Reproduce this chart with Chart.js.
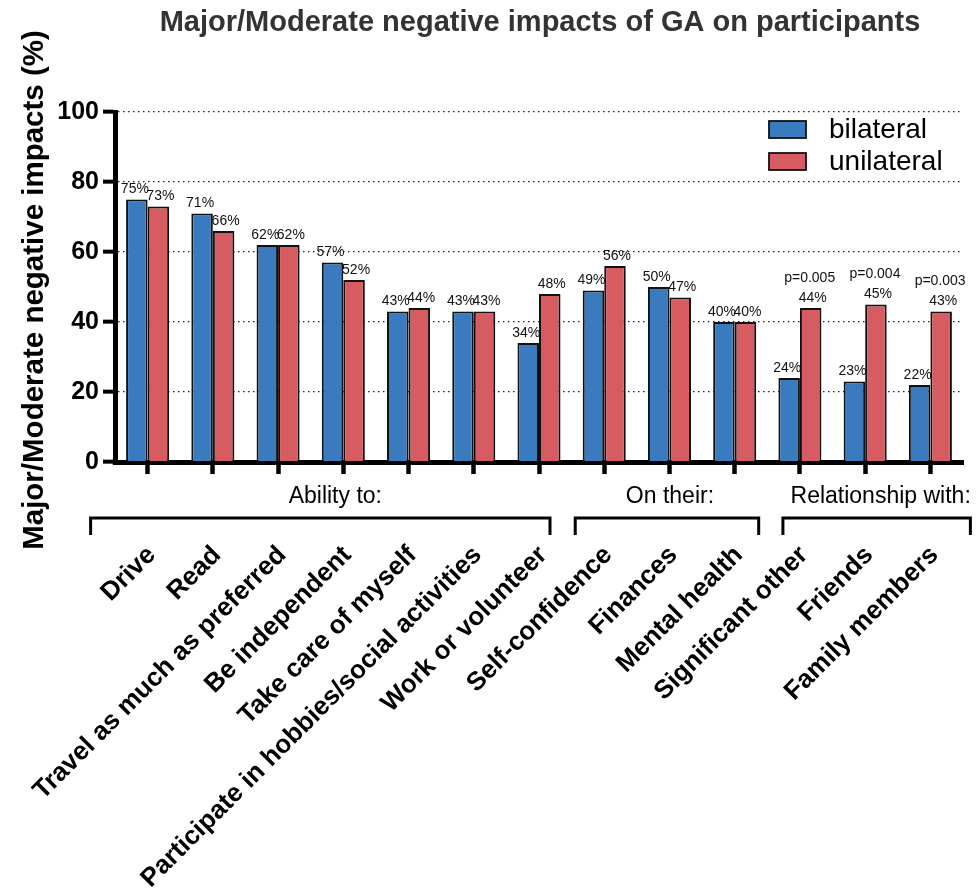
<!DOCTYPE html>
<html>
<head>
<meta charset="utf-8">
<title>Major/Moderate negative impacts of GA on participants</title>
<script src="https://cdn.jsdelivr.net/npm/chart.js@4.4.1/dist/chart.umd.min.js"></script>
<style>
  body { margin: 0; background: #fff; }
  #wrap { width: 978px; height: 890px; position: relative; }
</style>
</head>
<body>
<div id="wrap"><canvas id="gaChart"></canvas></div>
<script>
// values (percent of participants)
const categories = [
  "Drive", "Read", "Travel as much as preferred", "Be independent",
  "Take care of myself", "Participate in hobbies/social activities",
  "Work or volunteer", "Self-confidence", "Finances", "Mental health",
  "Significant other", "Friends", "Family members"
];
const bilateral  = [75, 71, 62, 57, 43, 43, 34, 49, 50, 40, 24, 23, 22];
const unilateral = [73, 66, 62, 52, 44, 43, 48, 56, 47, 40, 44, 45, 43];
const pValues = [null, null, null, null, null, null, null, null, null, null, "p=0.005", "p=0.004", "p=0.003"];
const yTicks = [0, 20, 40, 60, 80, 100];

const groupNames = ["Ability to:", "On their:", "Relationship with:"];
const groupFirst = [0, 7, 10];
const groupLast  = [6, 9, 12];

const FONT = "'Liberation Sans', Arial, Helvetica, sans-serif";
const BLUE = "#3a7bbf";
const RED = "#d75c61";

// bracket ends relative to first/last tick, and label shift from bracket middle
const bracketPad = [[-57, 11], [-29, 24], [-17, 40]];
const groupLabelShift = [15, 3, 4];

const extras = {
  id: "extras",
  afterDatasetsDraw(chart) {
    const ctx = chart.ctx;
    ctx.save();
    ctx.fillStyle = "#111";
    ctx.font = "14px " + FONT;
    ctx.textAlign = "center";
    ctx.textBaseline = "bottom";
    chart.data.datasets.forEach((ds, di) => {
      const meta = chart.getDatasetMeta(di);
      meta.data.forEach((bar, i) => {
        const dx = di === 0 ? -2 : 2;
        ctx.fillText(ds.data[i] + "%", bar.x + dx, bar.y - 3);
        if (di === 1 && pValues[i]) {
          ctx.fillText(pValues[i], bar.x - 1, bar.y - 23);
        }
      });
    });
    ctx.restore();
  },
  afterDraw(chart) {
    const ctx = chart.ctx;
    const xs = chart.scales.x;
    const area = chart.chartArea;
    ctx.save();

    // title
    ctx.fillStyle = "#333";
    ctx.font = "bold 29px " + FONT;
    ctx.textAlign = "center";
    ctx.textBaseline = "middle";
    ctx.fillText("Major/Moderate negative impacts of GA on participants", 540, 23);

    // y axis title
    ctx.save();
    ctx.translate(35, 290);
    ctx.rotate(-Math.PI / 2);
    ctx.fillStyle = "#000";
    ctx.font = "bold 29.5px " + FONT;
    ctx.fillText("Major/Moderate negative impacts (%)", 0, 0);
    ctx.restore();

    // legend
    const legend = [["bilateral", BLUE], ["unilateral", RED]];
    legend.forEach((item, k) => {
      const y = 121 + k * 32;
      ctx.fillStyle = item[1];
      ctx.fillRect(769, y, 37, 17);
      ctx.lineWidth = 1.8;
      ctx.strokeStyle = "#111";
      ctx.strokeRect(769, y, 37, 17);
      ctx.fillStyle = "#000";
      ctx.font = "28px " + FONT;
      ctx.textAlign = "left";
      ctx.textBaseline = "middle";
      ctx.fillText(item[0], 829, y + 9);
    });

    // group brackets
    ctx.strokeStyle = "#000";
    ctx.lineWidth = 3;
    ctx.fillStyle = "#000";
    ctx.font = "23px " + FONT;
    ctx.textAlign = "center";
    ctx.textBaseline = "middle";
    groupNames.forEach((name, g) => {
      const x0 = xs.getPixelForValue(groupFirst[g]) + bracketPad[g][0];
      const x1 = xs.getPixelForValue(groupLast[g]) + bracketPad[g][1];
      ctx.beginPath();
      ctx.moveTo(x0, 535);
      ctx.lineTo(x0, 518);
      ctx.lineTo(x1, 518);
      ctx.lineTo(x1, 535);
      ctx.stroke();
      ctx.fillText(name, (x0 + x1) / 2 + groupLabelShift[g], 497);
    });

    // rotated category labels
    ctx.font = "bold 26px " + FONT;
    ctx.textAlign = "right";
    ctx.textBaseline = "middle";
    categories.forEach((c, i) => {
      const x = xs.getPixelForValue(i);
      ctx.save();
      ctx.translate(x + 4, 551);
      ctx.rotate(-Math.PI / 4);
      ctx.fillText(c, 0, 0);
      ctx.restore();
    });

    // close the axis corner
    ctx.fillStyle = "#000";
    ctx.fillRect(area.left - 2.5, area.bottom - 2.5, 5, 5);
    ctx.restore();
  }
};

new Chart(document.getElementById("gaChart"), {
  type: "bar",
  data: {
    labels: categories,
    datasets: [
      { label: "bilateral", data: bilateral, backgroundColor: BLUE, borderColor: "#111", borderWidth: 2 },
      { label: "unilateral", data: unilateral, backgroundColor: RED, borderColor: "#111", borderWidth: 2 }
    ]
  },
  options: {
    responsive: true,
    maintainAspectRatio: false,
    animation: false,
    layout: { padding: { top: 112, right: 15, left: 0, bottom: 0 } },
    datasets: { bar: { categoryPercentage: 0.66, barPercentage: 1 } },
    plugins: {
      legend: { display: false },
      title: { display: false },
      tooltip: { enabled: false }
    },
    scales: {
      x: {
        afterFit(scale) { scale.height = 428; },
        ticks: { display: false },
        grid: {
          offset: false,
          drawOnChartArea: false,
          drawTicks: true,
          tickLength: 12,
          tickWidth: 4.5,
          tickColor: "#000"
        },
        border: { display: true, color: "#000", width: 5 }
      },
      y: {
        min: 0,
        max: 100,
        afterFit(scale) { scale.width = 115; },
        afterBuildTicks(scale) { scale.ticks = yTicks.map(v => ({ value: v })); },
        ticks: {
          color: "#000",
          padding: 4,
          font: { family: FONT, size: 25, weight: "bold" }
        },
        grid: {
          color: ctx => (ctx.tick && ctx.tick.value === 0) ? "rgba(0,0,0,0)" : "#222",
          lineWidth: 1.3,
          tickLength: 12,
          tickWidth: 4,
          tickColor: "#000"
        },
        border: { display: true, color: "#000", width: 5, dash: [1.5, 3.5] }
      }
    }
  },
  plugins: [extras]
});
</script>
</body>
</html>
